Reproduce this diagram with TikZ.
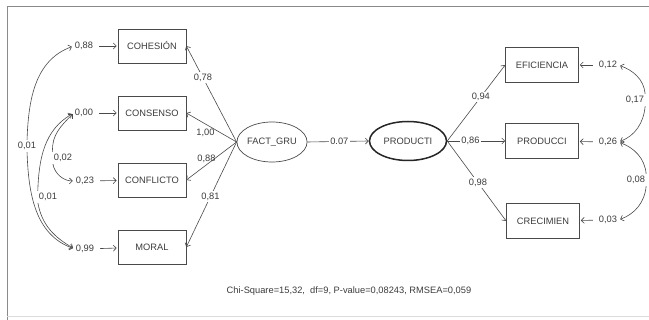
\documentclass[tikz,border=0pt]{standalone}
\usepackage{fontspec}
\setmainfont{Liberation Sans}
\usepackage{xcolor}
\usepackage{tikz}
\usetikzlibrary{shapes.geometric,arrows.meta}
\definecolor{bg}{HTML}{FFFFFF}
\definecolor{frame}{HTML}{8A8A8A}
\definecolor{ink}{HTML}{4A4A4A}
\definecolor{txt}{HTML}{3C3C3C}
\newcommand{\semfont}{\fontsize{9.3}{11}\selectfont}
\tikzset{
  obsBox/.style={draw=ink, rectangle, line width=0.7pt, minimum width=68pt, minimum height=34pt, inner sep=0pt, text=txt, font=\semfont},
  latEll/.style={draw=ink, ellipse, line width=0.7pt, minimum width=60pt, minimum height=40pt, inner sep=0pt, text=txt, font=\semfont},
  errLbl/.style={text=txt, font=\semfont, inner sep=1pt},
  coefLbl/.style={text=txt, font=\semfont, fill=bg, inner sep=1.5pt},
  semPath/.style={draw=ink, line width=0.6pt, -{Straight Barb[length=3pt,width=6pt]}},
  errPath/.style={semPath, shorten <=5pt, shorten >=1pt},
  covPath/.style={semPath, shorten <=1pt, shorten >=2pt},
}
\begin{document}
\begin{tikzpicture}[x=1pt,y=-1pt]
  \useasboundingbox (0,0) rectangle (649,320);
  \fill[bg] (0,0) rectangle (649,320);
  % frame
  \draw[frame, line width=1pt] (7,320) -- (7,7) -- (649,7);
  \draw[frame!30, line width=0.8pt] (7,316) -- (649,316);

  % indicators of FACT_GRU
  \node[obsBox] (coh)  at (152,46)  {COHESIÓN};
  \node[obsBox] (con)  at (152,113) {CONSENSO};
  \node[obsBox] (conf) at (152,180) {CONFLICTO};
  \node[obsBox] (mor)  at (152,247) {MORAL};

  \node[errLbl] (ecoh)  at (84,46)  {0,88};
  \node[errLbl] (econ)  at (84,113) {0,00};
  \node[errLbl] (econf) at (85,181) {0,23};
  \node[errLbl] (emor)  at (85,249) {0,99};

  \draw[errPath] (ecoh)  -- (coh);
  \draw[errPath] (econ)  -- (con);
  \draw[errPath] (econf) -- (conf);
  \draw[errPath] (emor)  -- (mor);

  % error covariances, left
  \node[errLbl] (cva) at (27,146) {0,01};
  \node[errLbl] (cvb) at (63,158) {0,02};
  \node[errLbl] (cvc) at (48,197) {0,01};
  \draw[covPath] (cva.north) to[out=88,in=200] (ecoh.west);
  \draw[covPath] (cva.south) to[out=-88,in=160] (emor.west);
  \draw[covPath] (cvb.north west) to[out=95,in=225] (econ.west);
  \draw[covPath] (cvb.south west) to[out=-80,in=180] (econf.west);
  \draw[covPath] (cvc.north west) to[out=88,in=210] (econ.west);
  \draw[covPath] (cvc.south west) to[out=-80,in=150] (emor.west);

  % latent variables
  \node[latEll] (fact) at (272,142) {FACT\_GRU};
  \node[latEll, line width=1.5pt, draw=black!85, minimum width=77pt, minimum height=39pt] (prod) at (408,141) {PRODUCTI};

  \draw[semPath] (fact.west) -- node[coefLbl, pos=0.67] {0,78} (coh.east);
  \draw[semPath] (fact.west) -- node[coefLbl, pos=0.62, below=3pt, fill=none] {1,00} (con.east);
  \draw[semPath] (fact.west) -- node[coefLbl, pos=0.6, above, fill=none] {0,88} (conf.east);
  \draw[semPath] (fact.west) -- node[coefLbl, pos=0.52] {0,81} (mor.east);

  \draw[semPath] (fact.east) -- node[coefLbl, pos=0.52] {0.07} (prod.west);

  % indicators of PRODUCTI
  \node[obsBox, minimum width=73pt, minimum height=35pt] (efi) at (542,65)  {EFICIENCIA};
  \node[obsBox, minimum width=73pt, minimum height=35pt] (pcc) at (542,141) {PRODUCCI};
  \node[obsBox, minimum width=73pt, minimum height=35pt] (cre) at (543,221) {CRECIMIEN};

  \draw[semPath] (prod.east) -- node[coefLbl, pos=0.58] {0,94} (efi.west);
  \draw[semPath] (prod.east) -- node[coefLbl, pos=0.4] {0,86} (pcc.west);
  \draw[semPath] (prod.east) -- node[coefLbl, pos=0.52] {0,98} (cre.west);

  \node[errLbl] (eefi) at (608,65)  {0,12};
  \node[errLbl] (epcc) at (608,142) {0,26};
  \node[errLbl] (ecre) at (608,220) {0,03};

  \draw[errPath] (eefi) -- (efi);
  \draw[errPath] (epcc) -- (pcc);
  \draw[errPath] (ecre) -- (cre);

  % error covariances, right
  \node[errLbl] (cvd) at (635,100) {0,17};
  \node[errLbl] (cve) at (636,180) {0,08};
  \draw[covPath] (cvd.north east) to[out=95,in=-20] (eefi.east);
  \draw[covPath] (cvd.south east) to[out=-95,in=20] (epcc.east);
  \draw[covPath] (cve.north east) to[out=95,in=-20] (epcc.east);
  \draw[covPath] (cve.south east) to[out=-95,in=20] (ecre.east);

  \node[errLbl] (fit) at (349,291) {Chi-Square=15,32,~ df=9, P-value=0,08243, RMSEA=0,059};
\end{tikzpicture}
\end{document}
